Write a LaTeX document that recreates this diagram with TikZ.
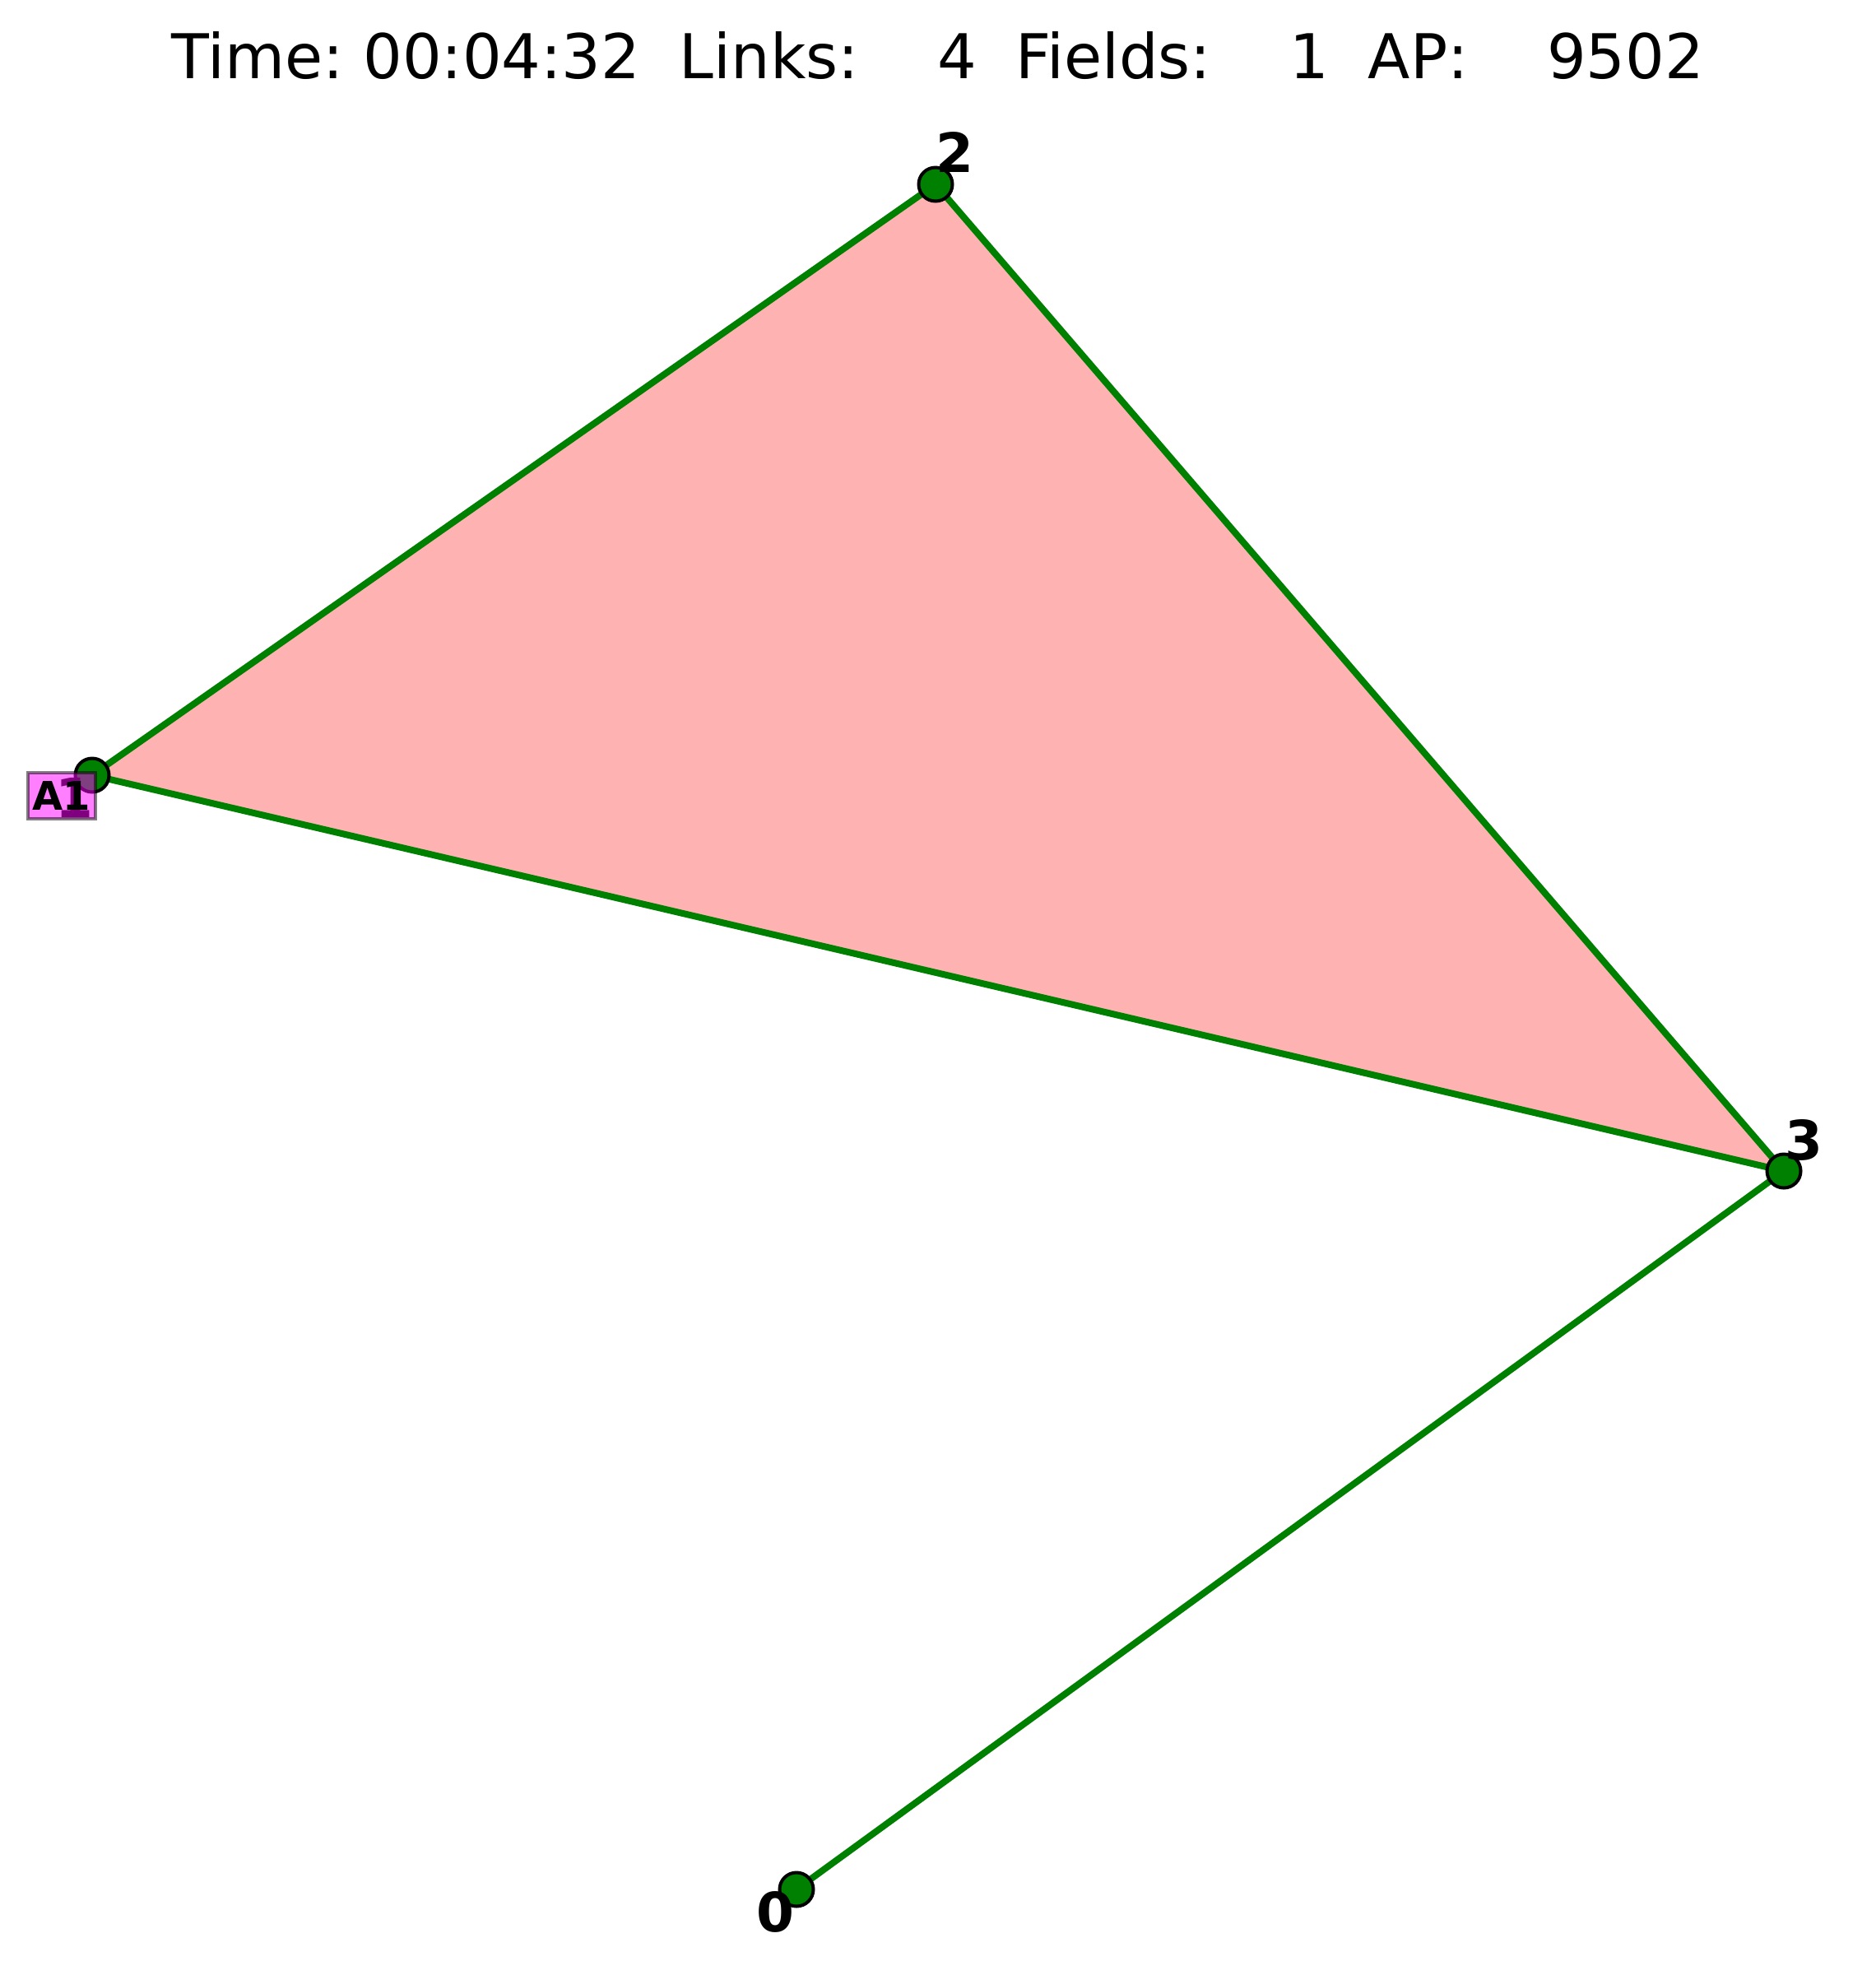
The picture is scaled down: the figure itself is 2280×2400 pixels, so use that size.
\documentclass[tikz,border=0pt]{standalone}
\usepackage{fontspec}
\setmainfont{DejaVu Sans}
\definecolor{linkgreen}{RGB}{0,128,0}
\definecolor{fieldred}{RGB}{255,178,178}
\definecolor{agentpink}{RGB}{255,0,255}

\begin{document}
\begin{tikzpicture}[x=0.25pt,y=0.25pt,yscale=-1,xscale=1]
    \tikzset{
        link/.style={draw=linkgreen, line width=2pt},
        field/.style={fill=fieldred},
        vertex/.style={circle, draw=black, fill=linkgreen, line width=1pt, minimum size=10.25pt, inner sep=0pt},
        numtext/.style={inner sep=0pt, font=\fontsize{16.5}{18}\selectfont\bfseries},
        agentbox/.style={draw=black, draw opacity=0.5, fill=agentpink, fill opacity=0.5, text opacity=1, line width=1pt, minimum width=20.5pt, minimum height=14pt, inner sep=0pt, font=\fontsize{12}{14}\selectfont\bfseries}
    }
    \useasboundingbox (0,0) rectangle (2280,2400);

    % Portals
    \coordinate (c0) at (968,2296);
    \coordinate (c1) at (112,942);
    \coordinate (c2) at (1137,224);
    \coordinate (c3) at (2168,1423);

    %Field
    \fill [field] (c1) -- (c2) -- (c3) -- cycle;

    %Straight Lines
    \draw [link] (c1) -- (c2);
    \draw [link] (c2) -- (c3);
    \draw [link] (c3) -- (c1);
    \draw [link] (c3) -- (c0);

    %Portal markers
    \node [vertex] (n0) at (c0) {};
    \node [vertex] (n1) at (c1) {};
    \node [vertex] (n2) at (c2) {};
    \node [vertex] (n3) at (c3) {};

    % Text Node
    \node [numtext] (t2) at (1160,185) {2};
    % Text Node
    \node [numtext] (t3) at (2192,1385) {3};
    % Text Node
    \node [numtext] (t0) at (942,2323) {0};
    % Text Node
    \node [numtext] (t1) at (90,969) {1};

    % Agent
    \node [agentbox] (a1) at (75,966.5) {A1};

    % Text Node
    \node [anchor=base, inner sep=0pt, font=\fontsize{18.75}{22}\selectfont] (title) at (1140,95) {Time:~00:04:32~~Links:~~~~4~~Fields:~~~~1~~AP:~~~~9502};
\end{tikzpicture}
\end{document}
